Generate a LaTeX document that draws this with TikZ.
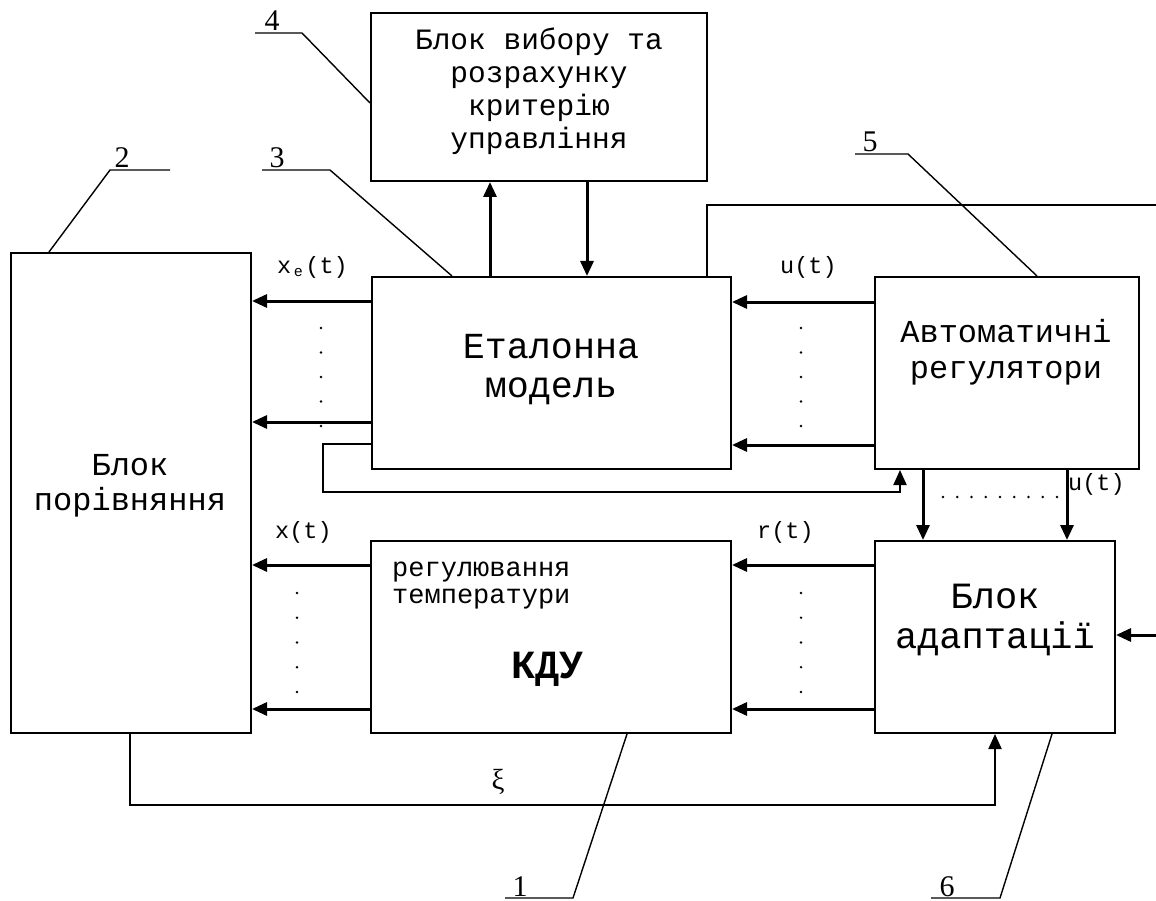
\documentclass[tikz,border=0pt]{standalone}
\usepackage{fontspec}
\setmainfont{Liberation Serif}
\newfontfamily\mono{Liberation Mono}
\usetikzlibrary{arrows.meta}
\begin{document}
\begin{tikzpicture}[x=1pt,y=-1pt,
  box/.style={draw, rectangle, line width=2pt, inner sep=0pt},
  txt/.style={inner sep=0pt, anchor=base},
  arr/.style={line width=3pt, -{Triangle[length=15pt,width=13pt]}},
  wire/.style={line width=2pt},
  wirearr/.style={line width=2pt, -{Triangle[length=15pt,width=13pt]}},
  lead/.style={line width=1.4pt},
  num/.style={inner sep=0pt, anchor=base, font=\fontsize{30}{30}\selectfont},
  sig/.style={inner sep=0pt, anchor=base west, font=\mono\fontsize{23.5}{25}\selectfont},
  dot/.style={fill=black}]
\fill[white] (0,0) rectangle (1156,901);
\useasboundingbox (0,0) rectangle (1156,901);

% blocks
\node[box, minimum width=336pt, minimum height=168pt] (crit) at (539,97) {};
\node[box, minimum width=359pt, minimum height=192pt] (etal) at (551.5,373) {};
\node[box, minimum width=264pt, minimum height=192pt] (auto) at (1007,373) {};
\node[box, minimum width=240pt, minimum height=480pt] (cmp) at (131,493) {};
\node[box, minimum width=360pt, minimum height=192pt] (kdu) at (551,637) {};
\node[box, minimum width=240pt, minimum height=192pt] (adap) at (995,637) {};

% block texts
\begin{scope}[every node/.style={txt, font=\mono\fontsize{29.5}{33}\selectfont}]
\node (c1) at (539,50) {Блок вибору та};
\node (c2) at (539,83) {розрахунку};
\node (c3) at (539,116) {критерію};
\node (c4) at (539,149) {управління};
\end{scope}
\node[txt, font=\mono\fontsize{36.7}{40}\selectfont] (e1) at (551,358) {Еталонна};
\node[txt, font=\mono\fontsize{36.7}{40}\selectfont] (e2) at (551,397) {модель};
\node[txt, font=\mono\fontsize{32}{36}\selectfont] (a1) at (1006,342) {Автоматичні};
\node[txt, font=\mono\fontsize{32}{36}\selectfont] (a2) at (1006,378) {регулятори};
\node[txt, font=\mono\fontsize{37}{40}\selectfont] (d1) at (995,608) {Блок};
\node[txt, font=\mono\fontsize{37}{40}\selectfont] (d2) at (995,648) {адаптації};
\node[txt, font=\mono\fontsize{32}{36}\selectfont] (p1) at (130,475) {Блок};
\node[txt, font=\mono\fontsize{32}{36}\selectfont] (p2) at (130,510) {порівняння};
\node[txt, anchor=base west, font=\mono\fontsize{27}{30}\selectfont] (k1) at (392,576) {регулювання};
\node[txt, anchor=base west, font=\mono\fontsize{27}{30}\selectfont] (k2) at (392,603) {температури};
\node[txt, font=\mono\bfseries\fontsize{40}{44}\selectfont] (k3) at (547,678) {КДУ};

% signal labels
\node[sig] (lxe) at (277,273) {x\raisebox{-3pt}{\makebox[0.6em]{\fontsize{15}{15}\selectfont e}}(t)};
\node[sig] (lx) at (275,538) {x(t)};
\node[sig] (lu) at (780,274) {u(t)};
\node[sig] (lr) at (757,538) {r(t)};
\node[sig] (lu2) at (1068,490) {u(t)};
\node[txt, font=\fontsize{29}{29}\selectfont] (lxi) at (498,789) {ξ};

% horizontal signal arrows
\draw[arr] (etal.west |- 0,301) -- (cmp.east |- 0,301);
\draw[arr] (etal.west |- 0,422) -- (cmp.east |- 0,422);
\draw[arr] (kdu.west |- 0,565) -- (cmp.east |- 0,565);
\draw[arr] (kdu.west |- 0,709) -- (cmp.east |- 0,709);
\draw[arr] (auto.west |- 0,302) -- (etal.east |- 0,302);
\draw[arr] (auto.west |- 0,445) -- (etal.east |- 0,445);
\draw[arr] (adap.west |- 0,565) -- (kdu.east |- 0,565);
\draw[arr] (adap.west |- 0,709) -- (kdu.east |- 0,709);

% vertical arrows
\draw[arr] (etal.north -| 490,0) -- (crit.south -| 490,0);
\draw[arr] (crit.south -| 587,0) -- (etal.north -| 587,0);
\draw[arr] (auto.south -| 923,0) -- (adap.north -| 923,0);
\draw[arr] (auto.south -| 1067,0) -- (adap.north -| 1067,0);

% external inputs
\coordinate (inR) at (1156,635);
\draw[arr] (inR) -- (adap.east |- inR);
\coordinate (outR) at (1156,205);
\draw[wire] (etal.north -| 707,0) -- (707,205) -- (outR);

% feedback loops
\draw[wirearr] (etal.west |- 0,444) -- (323,444) -- (323,492) -- (900,492) -- (auto.south -| 900,0);
\draw[wirearr] (cmp.south -| 130,0) -- (130,805) -- (995,805) -- (adap.south -| 995,0);

% dots
\foreach \y in {328,352.5,377,401.5,426} {
  \fill[dot] (321,\y) circle (1.3pt);
  \fill[dot] (801,\y) circle (1.3pt);
}
\foreach \y in {593,617.7,642.5,667.2,692} {
  \fill[dot] (297,\y) circle (1.3pt);
  \fill[dot] (801,\y) circle (1.3pt);
}
\foreach \i in {0,...,8} {
  \fill[dot] (943+14.25*\i,497) circle (1.3pt);
}

% reference numbers and leaders
\node[num] (n4) at (272,31) {4};
\node[num] (n3) at (277,168) {3};
\node[num] (n2) at (122,168) {2};
\node[num] (n5) at (870,152) {5};
\node[num] (n6) at (947,896) {6};
\node[num] (n1) at (520,896) {1};
\coordinate (l4a) at (255,33); \coordinate (l4b) at (302,33);
\coordinate (l3a) at (262,170); \coordinate (l3b) at (330,170);
\coordinate (l2a) at (170,170); \coordinate (l2b) at (110,170);
\coordinate (l5a) at (855,154); \coordinate (l5b) at (908,154);
\coordinate (l6a) at (931,898); \coordinate (l6b) at (1000,898);
\coordinate (l1a) at (505,898); \coordinate (l1b) at (573,898);
\draw[lead] (l4a) -- (l4b) -- (crit.west |- 0,103);
\draw[lead] (l3a) -- (l3b) -- (etal.north -| 452,0);
\draw[lead] (l2a) -- (l2b) -- (cmp.north -| 49,0);
\draw[lead] (l5a) -- (l5b) -- (auto.north -| 1037,0);
\draw[lead] (l6a) -- (l6b) -- (adap.south -| 1052,0);
\draw[lead] (l1a) -- (l1b) -- (kdu.south -| 627,0);
\end{tikzpicture}
\end{document}
